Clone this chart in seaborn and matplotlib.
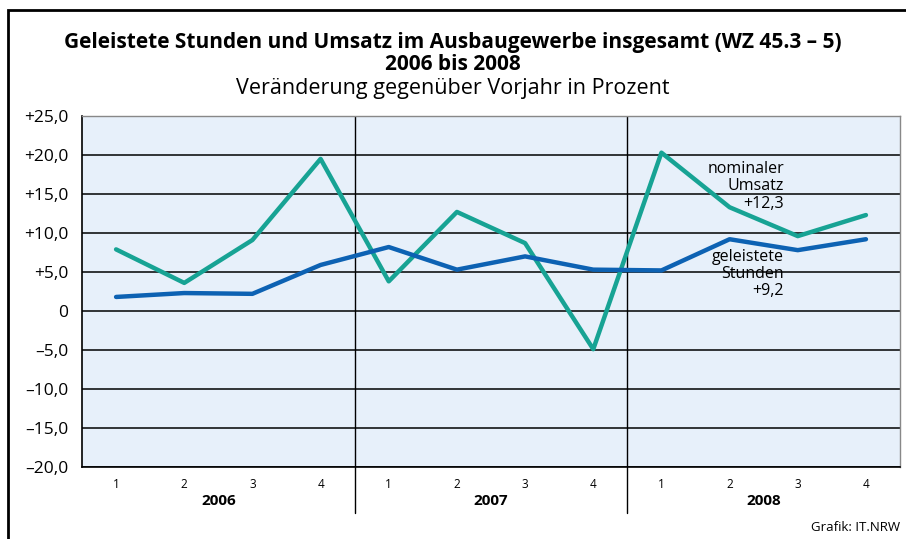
import numpy as np
import pandas as pd
import matplotlib
matplotlib.use("Agg")
import matplotlib.pyplot as plt
import seaborn as sns
from matplotlib.patches import Rectangle

# DATA
years = ["2006", "2007", "2008"]
quarters = ["1", "2", "3", "4"]
umsatz = [7.9, 3.6, 9.1, 19.5, 3.8, 12.7, 8.7, -4.9, 20.3, 13.3, 9.6, 12.3]
stunden = [1.8, 2.3, 2.2, 5.9, 8.2, 5.3, 7.0, 5.3, 5.2, 9.2, 7.8, 9.2]
yticks = [25, 20, 15, 10, 5, 0, -5, -10, -15, -20]

n = len(umsatz)
df = pd.DataFrame({
    "pos": list(range(n)) * 2,
    "wert": umsatz + stunden,
    "reihe": ["Umsatz"] * n + ["Stunden"] * n,
})

sns.set_style("white")
plt.rcParams["font.family"] = ["Open Sans", "DejaVu Sans"]
plt.rcParams["text.color"] = "black"
plt.rcParams["xtick.color"] = "black"
plt.rcParams["ytick.color"] = "black"

fig = plt.figure(figsize=(9.06, 5.39), dpi=100)
ax = fig.add_axes([0.0905, 0.1336, 0.9029, 0.6512])
ax.set_facecolor("#e7f0fa")

# frame around the graphic
fig.patches.append(Rectangle((0.009, -0.05), 1.2, 1.031, transform=fig.transFigure,
                             fill=False, edgecolor="black", linewidth=2.0))

sns.lineplot(data=df, x="pos", y="wert", hue="reihe",
             palette={"Umsatz": "#17a394", "Stunden": "#0d62b3"},
             linewidth=3.2, legend=False, ax=ax, zorder=3)

ax.set_xlim(-0.5, n - 0.5)
ax.set_ylim(-20, 25)
ax.set_yticks(yticks)

def fmt(v):
    if v == 0:
        return "0"
    s = f"{abs(v):.1f}".replace(".", ",")
    return ("+" if v > 0 else "\u2013") + s

ax.set_yticklabels([fmt(v) for v in yticks], fontsize=12.5)
ax.tick_params(axis="y", direction="out", length=7, width=1, color="black", pad=3)
for v in yticks:
    ax.axhline(v, color="black", linewidth=1.1, zorder=1)

ax.set_xticks(range(n))
ax.set_xticklabels(quarters * len(years), fontsize=8.5)
ax.tick_params(axis="x", length=0, pad=8)
ax.set_xlabel("")
ax.set_ylabel("")

for s in ["left", "bottom"]:
    ax.spines[s].set_color("black")
    ax.spines[s].set_linewidth(1.2)
for s in ["top", "right"]:
    ax.spines[s].set_color("#888888")
    ax.spines[s].set_linewidth(1.0)

# year separators and year labels
for i in range(1, len(years)):
    xd = i * len(quarters) - 0.5
    ax.axvline(xd, color="black", linewidth=1.0, zorder=2)
    ax.plot([xd, xd], [0, -0.13], color="black", linewidth=1.0,
            transform=ax.get_xaxis_transform(), clip_on=False)
for i, yr in enumerate(years):
    xc = i * len(quarters) + 1.5
    ax.text(xc, -0.097, yr, transform=ax.get_xaxis_transform(),
            ha="center", va="center", fontsize=11, fontweight="bold")

# series labels
ax.text(9.8, 19.2, "nominaler\nUmsatz\n+12,3", ha="right", va="top",
        fontsize=11.5, linespacing=1.1)
ax.text(9.8, 8.0, "geleistete\nStunden\n+9,2", ha="right", va="top",
        fontsize=11.5, linespacing=1.1)

fig.text(0.5, 0.921, "Geleistete Stunden und Umsatz im Ausbaugewerbe insgesamt (WZ 45.3 \u2013 5)",
         ha="center", va="center", fontsize=15, fontweight="bold")
fig.text(0.5, 0.880, "2006 bis 2008", ha="center", va="center",
         fontsize=15, fontweight="bold")
fig.text(0.5, 0.836, "Ver\u00e4nderung gegen\u00fcber Vorjahr in Prozent",
         ha="center", va="center", fontsize=15.5)
fig.text(0.993, 0.022, "Grafik: IT.NRW", ha="right", va="center", fontsize=9.5)

fig.savefig("out.png", dpi=100)
